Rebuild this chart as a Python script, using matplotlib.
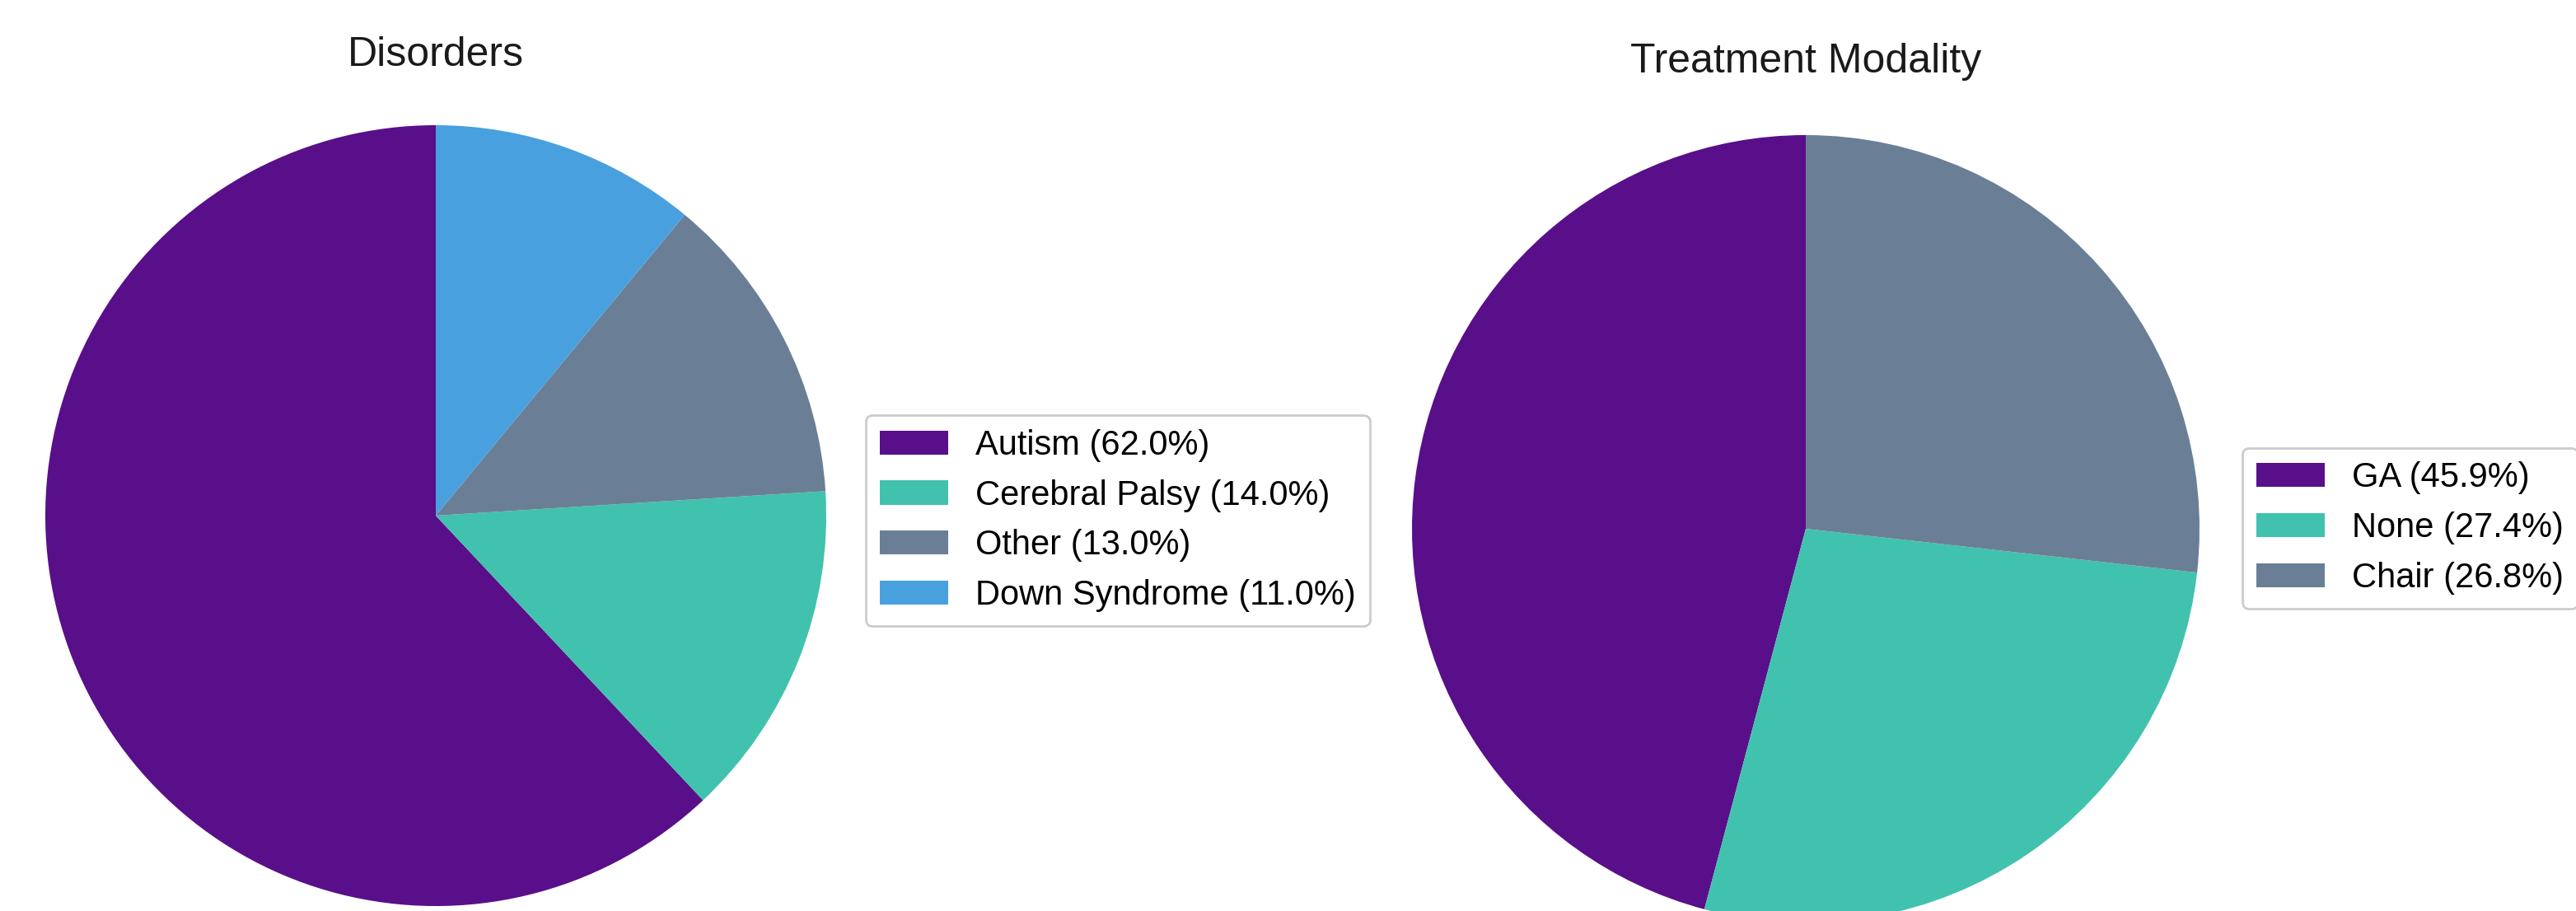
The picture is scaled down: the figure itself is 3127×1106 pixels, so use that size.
import matplotlib
matplotlib.use("Agg")
import matplotlib.pyplot as plt

plt.rcParams['font.family'] = ['Liberation Sans', 'DejaVu Sans']

# Data
disorder_labels = ["Autism", "Cerebral Palsy", "Other", "Down Syndrome"]
disorder_values = [62.0, 14.0, 13.0, 11.0]
disorder_colors = ["#590F8A", "#41C2AE", "#6A7F96", "#49A0DF"]

treatment_labels = ["GA", "None", "Chair"]
treatment_values = [45.9, 27.4, 26.8]
treatment_colors = ["#590F8A", "#41C2AE", "#6A7F96"]

W, H = 3127, 1106
DPI = 200
fig = plt.figure(figsize=(W / DPI, H / DPI), dpi=DPI)


def fx(px):
    return px / W


def fy(py):
    return 1 - py / H


def make_pie(cx, cy, r, values, labels, colors, title, title_pad, leg_xy):
    ax = fig.add_axes([fx(cx - r), fy(cy + r), (2 * r) / W, (2 * r) / H])
    wedges, _ = ax.pie(values, colors=colors, startangle=90, counterclock=True,
                       radius=1.0)
    ax.set_xlim(-1, 1)
    ax.set_ylim(-1, 1)
    ax.set_aspect('auto')
    ax.axis('off')
    ax.set_title(title, fontsize=18, pad=title_pad, color='#1a1a1a')
    leg_labels = [f"{l} ({v:.1f}%)" for l, v in zip(labels, values)]
    fig.legend(wedges, leg_labels, loc='center left',
               bbox_to_anchor=(fx(leg_xy[0]), fy(leg_xy[1])),
               bbox_transform=fig.transFigure, borderaxespad=0,
               fontsize=15, frameon=True, edgecolor='#cccccc',
               framealpha=1.0, fancybox=True)
    return ax


make_pie(529, 626, 474, disorder_values, disorder_labels, disorder_colors,
         "Disorders", 26, (1051, 632))
make_pie(2192, 642, 478, treatment_values, treatment_labels, treatment_colors,
         "Treatment Modality", 27.5, (2722, 641))

fig.savefig("out.png", dpi=DPI)
